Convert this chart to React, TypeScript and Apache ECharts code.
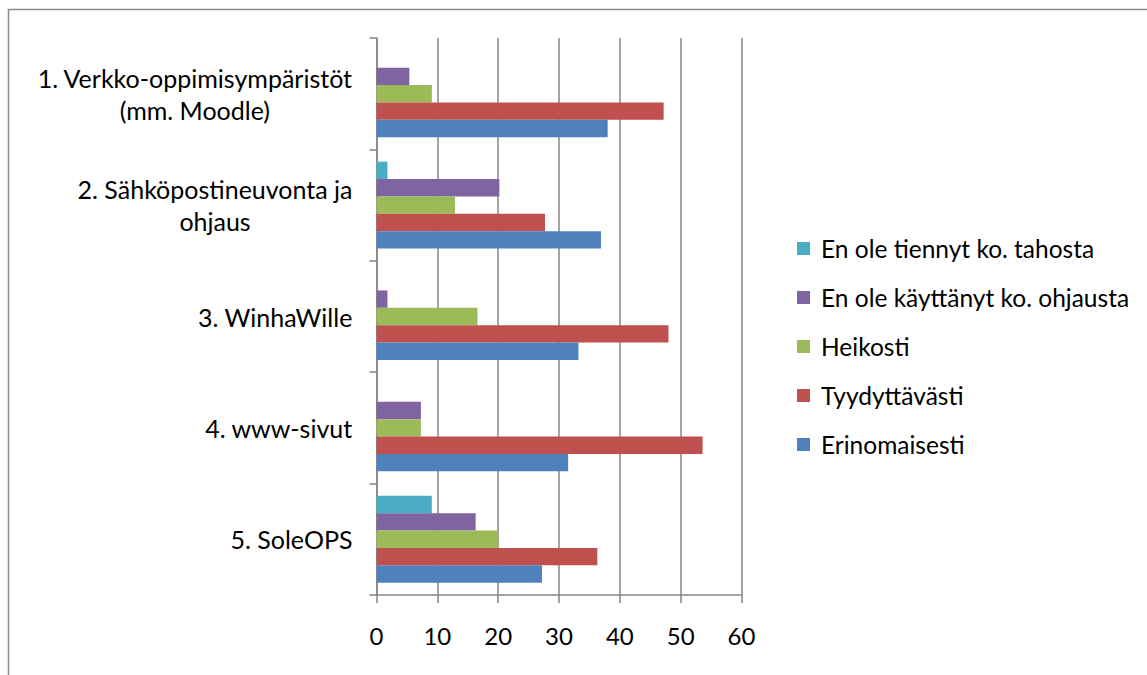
import React, { useEffect, useRef } from "react";
import * as echarts from "echarts";

const categories = [
  "5. SoleOPS",
  "4. www-sivut",
  "3. WinhaWille",
  "2. Sähköpostineuvonta ja\nohjaus",
  "1. Verkko-oppimisympäristöt\n(mm. Moodle)",
];

const seriesNames = [
  "En ole tiennyt ko. tahosta",
  "En ole käyttänyt ko. ohjausta",
  "Heikosti",
  "Tyydyttävästi",
  "Erinomaisesti",
];

const enOleTiennyt = [9.1, 0, 0, 1.8, 0];
const enOleKayttanyt = [16.3, 7.3, 1.8, 20.2, 5.4];
const heikosti = [20.0, 7.3, 16.6, 12.9, 9.1];
const tyydyttavasti = [36.3, 53.6, 48.0, 27.7, 47.2];
const erinomaisesti = [27.2, 31.5, 33.2, 36.9, 38.0];

const seriesValues = [enOleTiennyt, enOleKayttanyt, heikosti, tyydyttavasti, erinomaisesti];
const colors = ["#4BACC6", "#8064A2", "#9BBB59", "#C0504D", "#4F81BD"];
const xTicks = [0, 10, 20, 30, 40, 50, 60];

const FONT = "Lato, 'Open Sans', sans-serif";
const FS = 24;

export default function App() {
  const ref = useRef<HTMLDivElement>(null);
  useEffect(() => {
    if (!ref.current) return;
    const chart = echarts.init(ref.current, undefined, { renderer: "svg" });
    chart.setOption({
      animation: false,
      textStyle: { fontFamily: FONT },
      graphic: [
        {
          type: "rect",
          shape: { x: 8.5, y: 9.5, width: 1300, height: 800 },
          style: { fill: "none", stroke: "#8a8a8a", lineWidth: 1.5 },
          silent: true,
        },
      ],
      grid: { left: 376.5, right: 405.5, top: 38, bottom: 80, containLabel: false },
      legend: {
        orient: "vertical",
        left: 797,
        top: 236,
        padding: 0,
        itemWidth: 13,
        itemHeight: 13,
        itemGap: 24,
        icon: "rect",
        data: seriesNames,
        textStyle: { fontFamily: FONT, fontSize: 24.5, color: "#000", padding: [0, 0, 0, 6] },
      },
      xAxis: {
        type: "value",
        min: xTicks[0],
        max: xTicks[xTicks.length - 1],
        interval: 10,
        axisLine: { show: true, lineStyle: { color: "#868686", width: 1.5 } },
        axisTick: { show: true, length: 8, lineStyle: { color: "#868686", width: 1.5 } },
        splitLine: { show: true, lineStyle: { color: "#868686", width: 1.5 } },
        axisLabel: { fontFamily: FONT, fontSize: FS, color: "#000", margin: 28 },
      },
      yAxis: {
        type: "category",
        data: categories,
        axisLine: { show: true, lineStyle: { color: "#868686", width: 1.5 } },
        axisTick: { show: true, length: 7, alignWithLabel: false, lineStyle: { color: "#868686", width: 1.5 } },
        axisLabel: {
          margin: 24,
          align: "right",
          lineHeight: 32,
          formatter: (v: string) => v.split("\n").map((l) => `{c|${l}}`).join("\n"),
          rich: {
            c: { align: "center", fontFamily: FONT, fontSize: 25, color: "#000", lineHeight: 32 },
          },
        },
      },
      series: seriesNames.map((name, i) => ({
        name,
        type: "bar",
        data: seriesValues[i],
        barGap: "0%",
        barCategoryGap: "22%",
        itemStyle: { color: colors[i] },
      })),
    });
    return () => chart.dispose();
  }, []);
  return (
    <div
      ref={ref}
      style={{ position: "fixed", left: 0, top: 0, width: 1147, height: 675, background: "#fff" }}
    />
  );
}
